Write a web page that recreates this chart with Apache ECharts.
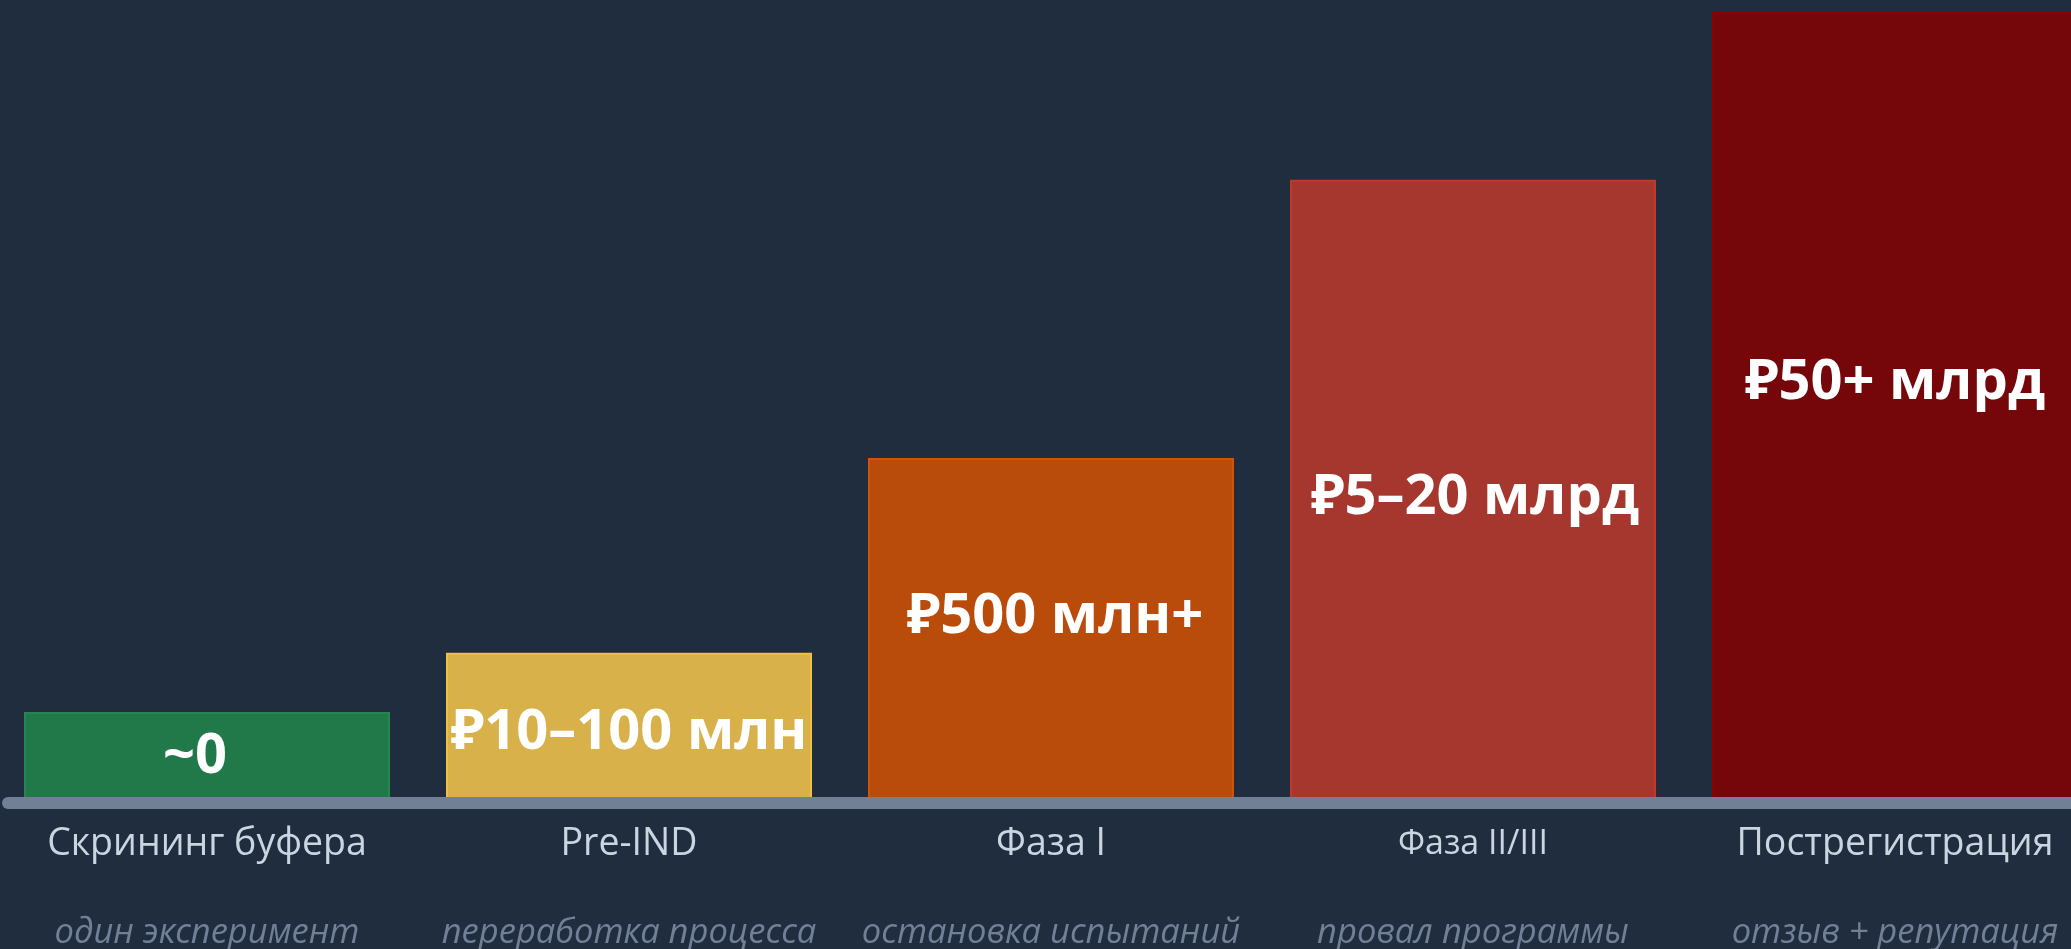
<!DOCTYPE html>
<html lang="ru">
<head>
  <meta charset="UTF-8">
  <title>Стоимость ошибки по стадиям</title>
  <script src="https://cdn.jsdelivr.net/npm/echarts@6/dist/echarts.min.js"></script>
</head>
<style>
  * {
    padding: 0px;
    margin: 0px;
  }
  html, body {
    background: #1f2d3e;
  }
</style>
<body>
<div id="main" style="width:2071px;height:949px;"></div>
</body>
</html>
<script>
  // стадии и цена ошибки на каждой
  var stages = ['Скрининг буфера', 'Pre-IND', 'Фаза I', 'Фаза II/III', 'Пострегистрация'];
  var consequences = ['один эксперимент', 'переработка процесса', 'остановка испытаний', 'провал программы', 'отзыв + репутация'];
  var costLabels = ['~0', '₽10–100 млн', '₽500 млн+', '₽5–20 млрд', '₽50+ млрд'];
  var riskLevel = [11.5, 19, 43.6, 78.8, 100];

  window.onload = function () {
    var fills = ['#217848', '#d9b14b', '#b94c0a', '#a5372f', '#75060a'];
    var borders = ['#25874f', '#f0c040', '#d35400', '#c0392b', '#8b0000'];
    // небольшой сдвиг подписей, как в макете
    var labelShift = [[-12, 0], [0, 5], [4, -14], [2, 7], [0, -24]];
    var font = "'Open Sans', 'Noto Sans', sans-serif";
    var myChart = echarts.init(document.getElementById('main'));

    var barData = riskLevel.map(function (v, i) {
      return {
        value: v,
        itemStyle: {color: fills[i], borderColor: borders[i]},
        label: {formatter: costLabels[i], offset: labelShift[i]}
      };
    });

    myChart.setOption({
      backgroundColor: '#1f2d3e',
      animation: false,
      grid: [
        {left: -4, width: 2110, top: 12, bottom: 146, outerBoundsMode: 'none'},
        {left: 8, right: -20, top: 802, height: 1, outerBoundsMode: 'none'}
      ],
      xAxis: [
        {
          type: 'category',
          data: stages,
          axisLine: {show: false},
          axisTick: {show: false},
          axisLabel: {
            interval: 0,
            margin: 16,
            formatter: function (value, idx) {
              var key = value === 'Фаза II/III' ? 'c' : 'a';
              return '{' + key + '|' + value + '}\n{b|' + consequences[idx] + '}';
            },
            rich: {
              a: {fontSize: 37.5, color: '#cbd5e0', fontFamily: font, lineHeight: 50},
              c: {fontSize: 34, color: '#cbd5e0', fontFamily: font, lineHeight: 50},
              b: {fontSize: 34.5, color: '#718096', fontStyle: 'italic', fontFamily: font, lineHeight: 128}
            }
          }
        },
        {
          type: 'value',
          gridIndex: 1,
          min: 0,
          max: 1,
          z: 10,
          axisLine: {show: true, lineStyle: {color: '#718096', width: 12, cap: 'round'}},
          axisTick: {show: false},
          axisLabel: {show: false},
          splitLine: {show: false}
        }
      ],
      yAxis: [
        {
          type: 'value',
          min: 0,
          max: 100,
          show: false
        },
        {
          type: 'value',
          gridIndex: 1,
          show: false
        }
      ],
      series: [
        {
          type: 'bar',
          data: barData,
          barWidth: 366,
          itemStyle: {borderWidth: 2},
          label: {
            show: true,
            position: 'inside',
            color: '#ffffff',
            fontSize: 56,
            fontWeight: 'bold',
            fontFamily: font
          }
        }
      ]
    });
  };
</script>
